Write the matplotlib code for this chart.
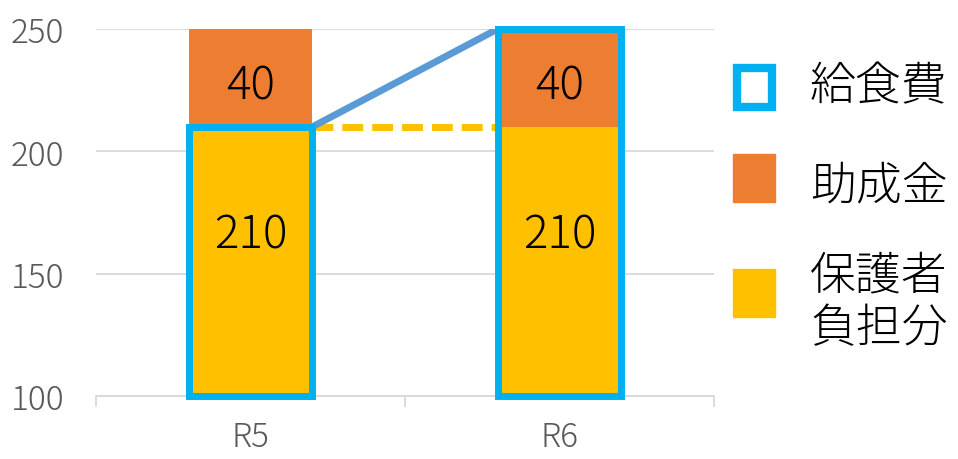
import matplotlib.pyplot as plt
import numpy as np
from matplotlib.patches import Rectangle

plt.rcParams['font.family'] = ['Noto Sans CJK JP', 'DejaVu Sans']
plt.rcParams['font.weight'] = 'light'

# data
categories = ["R5", "R6"]
parent_share = [210, 210]   # 保護者負担分
subsidy = [40, 40]          # 助成金
lunch_fee = [210, 250]      # 給食費
legend_labels = ["給食費", "助成金", "保護者\n負担分"]

YELLOW = "#FFC000"
ORANGE = "#ED7D31"
CYAN = "#00B0F0"
BLUE = "#5B9BD5"
GRID = "#D9D9D9"
TICK = "#595959"

W, H = 958, 460
fig = plt.figure(figsize=(W / 100, H / 100), dpi=100)
ax = fig.add_axes([96 / W, (H - 397) / H, (714 - 96) / W, (397 - 30) / H])

ymin, ymax = 100, 250
x = np.arange(len(categories))
w = 0.4

ax.bar(x, parent_share, w, color=YELLOW, zorder=2)
ax.bar(x, subsidy, w, bottom=parent_share, color=ORANGE, zorder=2)
ax.bar(x, [v - ymin for v in lunch_fee], w, bottom=ymin, fill=False,
       edgecolor=CYAN, lw=5, zorder=5, clip_on=False)

# series lines between the bars
xs = [x[0] + w / 2, x[1] - w / 2]
ax.plot(xs, lunch_fee, color=BLUE, lw=5, zorder=4, solid_capstyle="butt")
ax.plot(xs, parent_share, color=YELLOW, lw=5, ls=(0, (3, 1.3)), zorder=3)

# data labels
for i in range(len(categories)):
    ax.text(x[i], parent_share[i] + subsidy[i] / 2 - 3, str(subsidy[i]),
            ha="center", va="center", fontsize=33, color="black", zorder=6)
    ax.text(x[i], 166, str(parent_share[i]),
            ha="center", va="center", fontsize=33, color="black", zorder=6)

ax.set_xlim(-0.5, 1.5)
ax.set_ylim(ymin, ymax)
ax.set_yticks([100, 150, 200, 250])
ax.set_xticks(x, categories)
ax.set_xticks([-0.5, 0.5, 1.5], minor=True)
ax.yaxis.grid(True, color=GRID, lw=1.3, zorder=0)
ax.set_axisbelow(True)
for s in ["top", "right", "left"]:
    ax.spines[s].set_visible(False)
ax.spines["bottom"].set_color(GRID)
ax.spines["bottom"].set_linewidth(1.3)
ax.tick_params(axis="y", length=0, pad=23, labelsize=24, labelcolor=TICK)
ax.tick_params(axis="x", which="major", length=0, pad=17, labelsize=24, labelcolor=TICK)
ax.tick_params(axis="x", which="minor", length=8, width=1.3, color=GRID)

# legend drawn on an overlay in pixel space
lg = fig.add_axes([0, 0, 1, 1], zorder=10)
lg.set_xlim(0, W)
lg.set_ylim(H, 0)
lg.axis("off")
lg.add_patch(Rectangle((737, 69), 35, 39, fill=False, edgecolor=CYAN, lw=6))
lg.add_patch(Rectangle((733, 155), 42, 48, color=ORANGE))
lg.add_patch(Rectangle((733, 270), 42, 48, color=YELLOW))
for label, yc in zip(legend_labels, [88, 187, 303]):
    lg.text(810, yc, label, ha="left", va="center", fontsize=33,
            color="black", linespacing=1.15)

fig.savefig("out.png", dpi=100)
